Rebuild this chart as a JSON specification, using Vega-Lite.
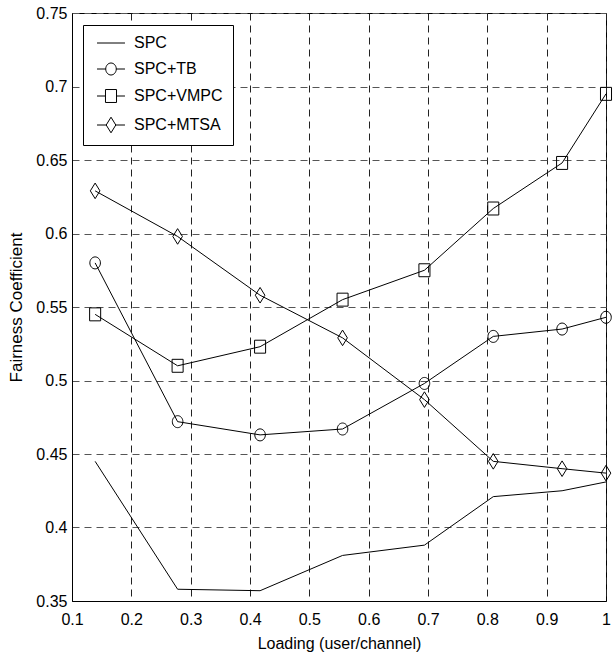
{
  "$schema": "https://vega.github.io/schema/vega-lite/v6.json",
  "width": 534,
  "height": 588,
  "autosize": {"type": "none"},
  "padding": {"left": 72, "top": 13, "right": 10, "bottom": 60},
  "background": "white",
  "config": {
    "view": {"stroke": "black", "strokeWidth": 1},
    "axis": {
      "labelFont": "Liberation Sans",
      "labelFontSize": 16,
      "labelColor": "black",
      "titleColor": "black",
      "titleFontWeight": "normal",
      "domainColor": "black",
      "domainWidth": 1,
      "ticks": false,
      "grid": true,
      "gridDash": [7, 5],
      "gridWidth": 1,
      "gridOpacity": 1
    },
    "legend": {
      "labelFont": "Liberation Sans",
      "labelFontSize": 16,
      "labelColor": "black"
    }
  },
  "data": {
    "values": [
      {"x": 0.139, "series": "SPC", "y": 0.445},
      {"x": 0.278, "series": "SPC", "y": 0.358},
      {"x": 0.417, "series": "SPC", "y": 0.357},
      {"x": 0.556, "series": "SPC", "y": 0.381},
      {"x": 0.694, "series": "SPC", "y": 0.388},
      {"x": 0.81, "series": "SPC", "y": 0.421},
      {"x": 0.926, "series": "SPC", "y": 0.425},
      {"x": 1.0, "series": "SPC", "y": 0.431},
      {"x": 0.139, "series": "SPC+TB", "y": 0.580},
      {"x": 0.278, "series": "SPC+TB", "y": 0.472},
      {"x": 0.417, "series": "SPC+TB", "y": 0.463},
      {"x": 0.556, "series": "SPC+TB", "y": 0.467},
      {"x": 0.694, "series": "SPC+TB", "y": 0.498},
      {"x": 0.81, "series": "SPC+TB", "y": 0.530},
      {"x": 0.926, "series": "SPC+TB", "y": 0.535},
      {"x": 1.0, "series": "SPC+TB", "y": 0.543},
      {"x": 0.139, "series": "SPC+VMPC", "y": 0.545},
      {"x": 0.278, "series": "SPC+VMPC", "y": 0.510},
      {"x": 0.417, "series": "SPC+VMPC", "y": 0.523},
      {"x": 0.556, "series": "SPC+VMPC", "y": 0.555},
      {"x": 0.694, "series": "SPC+VMPC", "y": 0.575},
      {"x": 0.81, "series": "SPC+VMPC", "y": 0.617},
      {"x": 0.926, "series": "SPC+VMPC", "y": 0.648},
      {"x": 1.0, "series": "SPC+VMPC", "y": 0.695},
      {"x": 0.139, "series": "SPC+MTSA", "y": 0.629},
      {"x": 0.278, "series": "SPC+MTSA", "y": 0.598},
      {"x": 0.417, "series": "SPC+MTSA", "y": 0.558},
      {"x": 0.556, "series": "SPC+MTSA", "y": 0.529},
      {"x": 0.694, "series": "SPC+MTSA", "y": 0.487},
      {"x": 0.81, "series": "SPC+MTSA", "y": 0.445},
      {"x": 0.926, "series": "SPC+MTSA", "y": 0.440},
      {"x": 1.0, "series": "SPC+MTSA", "y": 0.437}
    ]
  },
  "encoding": {
    "x": {
      "field": "x",
      "type": "quantitative",
      "scale": {"domain": [0.1, 1], "nice": false, "zero": false},
      "axis": {
        "title": "Loading (user/channel)",
        "titleFont": "Liberation Sans",
        "titleFontSize": 16,
        "titlePadding": 8,
        "values": [0.1, 0.2, 0.3, 0.4, 0.5, 0.6, 0.7, 0.8, 0.9, 1],
        "format": "~g",
        "labelPadding": 10,
        "gridColor": "#222",
        "labelFlush": false
      }
    },
    "y": {
      "field": "y",
      "type": "quantitative",
      "scale": {"domain": [0.35, 0.75], "nice": false, "zero": false},
      "axis": {
        "title": "Fairness Coefficient",
        "titleFont": "Liberation Sans",
        "titleFontSize": 17,
        "titlePadding": 10,
        "values": [0.35, 0.4, 0.45, 0.5, 0.55, 0.6, 0.65, 0.7, 0.75],
        "format": "~g",
        "labelPadding": 5,
        "gridColor": "#555",
        "labelFlush": false
      }
    }
  },
  "layer": [
    {
      "mark": {"type": "line", "color": "black", "strokeWidth": 1},
      "encoding": {"detail": {"field": "series"}}
    },
    {
      "transform": [{"filter": "datum.series !== 'SPC'"}],
      "mark": {"type": "point", "filled": false, "color": "black", "strokeWidth": 1, "size": 144, "opacity": 1},
      "encoding": {
        "shape": {
          "field": "series",
          "type": "nominal",
          "scale": {
            "domain": ["SPC+TB", "SPC+VMPC", "SPC+MTSA"],
            "range": [
              "M0,-1A0.88,1 0 1,1 0,1A0.88,1 0 1,1 0,-1Z",
              "M-0.92,-1.08H0.92V1.08H-0.92Z",
              "M0,-1.3L0.8,0L0,1.3L-0.8,0Z"
            ]
          },
          "legend": null
        }
      }
    },
    {
      "transform": [{"filter": "false"}],
      "mark": {"type": "point", "filled": false, "color": "black", "strokeWidth": 1, "size": 144},
      "encoding": {
        "shape": {
          "field": "series",
          "type": "nominal",
          "scale": {
            "domain": ["SPC", "SPC+TB", "SPC+VMPC", "SPC+MTSA"],
            "range": [
              "M-2.33,0H2.33",
              "M-2.33,0H-0.88M0.88,0H2.33M0,-1A0.88,1 0 1,1 0,1A0.88,1 0 1,1 0,-1Z",
              "M-2.33,0H-0.92M0.92,0H2.33M-0.92,-1.08H0.92V1.08H-0.92Z",
              "M-2.33,0H-0.8M0.8,0H2.33M0,-1.3L0.8,0L0,1.3L-0.8,0Z"
            ]
          },
          "legend": {
            "title": null,
            "orient": "none",
            "legendX": 11,
            "legendY": 12,
            "strokeColor": "black",
            "fillColor": "white",
            "padding": 10,
            "symbolOffset": 10,
            "labelOffset": 15,
            "rowPadding": 10,
            "symbolSize": 144,
            "symbolStrokeColor": "black",
            "symbolFillColor": "transparent",
            "symbolStrokeWidth": 1,
            "symbolOpacity": 1
          }
        }
      }
    }
  ],
  "resolve": {"scale": {"shape": "independent"}, "legend": {"shape": "independent"}}
}
